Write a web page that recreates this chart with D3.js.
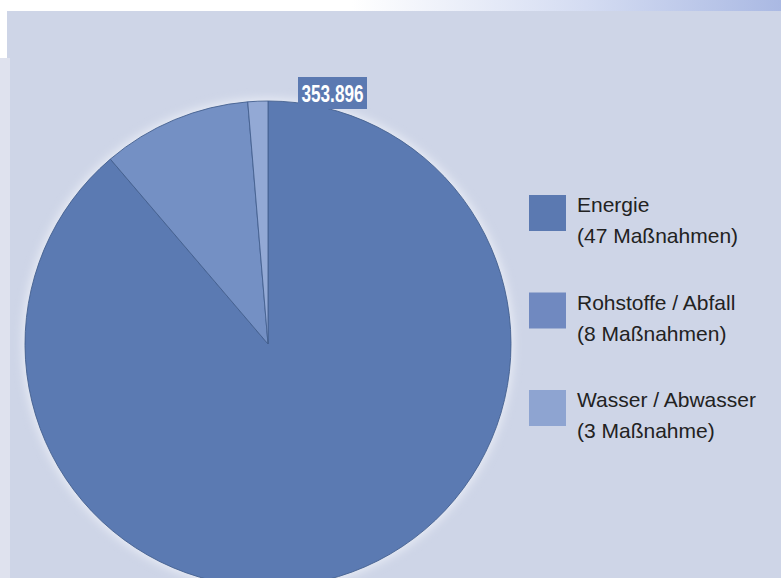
<!DOCTYPE html>
<html>
<head>
<meta charset="utf-8">
<script src="https://cdn.jsdelivr.net/npm/d3@7"></script>
<style>
  body { margin: 0; background: #fff; }
  svg { display: block; }
  .legend-text { font-family: "Liberation Sans", Arial, sans-serif; font-size: 21px; fill: #222; }
  .value-label { font-family: "Liberation Sans", Arial, sans-serif; font-weight: bold; font-size: 24px; fill: #fff; }
</style>
</head>
<body>
<div id="chart"></div>
<script>
const WIDTH = 781;
const HEIGHT = 578;

// data
const categories = ["Energie", "Rohstoffe / Abfall", "Wasser / Abwasser"];
const subLabels = ["(47 Maßnahmen)", "(8 Maßnahmen)", "(3 Maßnahme)"];
const values = [353896, 39500, 5300];
const sliceColors = ["#5b7ab2", "#7490c4", "#93a9d5"];
const legendColors = ["#5b79b1", "#7089c0", "#8ea4d1"];
const valueLabel = "353.896";

const svg = d3.select("#chart").append("svg")
  .attr("width", WIDTH)
  .attr("height", HEIGHT)

const defs = svg.append("defs")
const grad = defs.append("linearGradient")
  .attr("id", "topband")
  .attr("x1", "0%").attr("x2", "100%")
grad.append("stop").attr("offset", "45%").attr("stop-color", "#ffffff")
grad.append("stop").attr("offset", "75%").attr("stop-color", "#d4dcf2")
grad.append("stop").attr("offset", "100%").attr("stop-color", "#aab9e3")

defs.append("filter").attr("id", "glow")
  .attr("x", "-10%").attr("y", "-10%").attr("width", "120%").attr("height", "120%")
  .append("feGaussianBlur").attr("stdDeviation", 4)

// background
svg.append("rect")
  .attr("width", WIDTH)
  .attr("height", 11)
  .attr("fill", "url(#topband)")
svg.append("rect")
  .attr("x", 7)
  .attr("y", 11)
  .attr("width", WIDTH - 7)
  .attr("height", HEIGHT - 11)
  .attr("fill", "#ced5e7")
svg.append("rect")
  .attr("x", 0)
  .attr("y", 58)
  .attr("width", 10)
  .attr("height", HEIGHT - 58)
  .attr("fill", "#dfe2ee")

// pie
const R = 243;
const gPie = svg.append("g")
  .attr("transform", `translate(268, 344)`)

gPie.append("circle")
  .attr("r", R + 3)
  .attr("fill", "#e6eaf4")
  .attr("filter", "url(#glow)")

const pie = d3.pie().sort(null).value(d => d)
const arc = d3.arc().innerRadius(0).outerRadius(R)

gPie.selectAll("path.slice")
  .data(pie(values))
  .join("path")
  .attr("class", "slice")
  .attr("d", arc)
  .attr("fill", (d, i) => sliceColors[i])
  .attr("stroke", "#44608f")
  .attr("stroke-width", 0.9)
  .attr("stroke-linejoin", "round")

// value label
const gLabel = svg.append("g")
  .attr("transform", `translate(298, 77)`)
gLabel.append("rect")
  .attr("width", 69)
  .attr("height", 32)
  .attr("fill", "#5b79b1")
gLabel.append("text")
  .attr("class", "value-label")
  .attr("x", 3.5)
  .attr("y", 25)
  .attr("textLength", 62)
  .attr("lengthAdjust", "spacingAndGlyphs")
  .text(valueLabel)

// legend
const yLegend = d3.scalePoint()
  .domain(categories)
  .range([195, 390])

const legend = svg.selectAll("g.legend")
  .data(categories)
  .join("g")
  .attr("class", "legend")
  .attr("transform", d => `translate(529, ${yLegend(d)})`)

legend.append("rect")
  .attr("width", 37)
  .attr("height", 36)
  .attr("fill", (d, i) => legendColors[i])

legend.append("text")
  .attr("class", "legend-text")
  .attr("x", 48)
  .attr("y", 17)
  .text(d => d)

legend.append("text")
  .attr("class", "legend-text")
  .attr("x", 48)
  .attr("y", 48)
  .text((d, i) => subLabels[i])
</script>
</body>
</html>
